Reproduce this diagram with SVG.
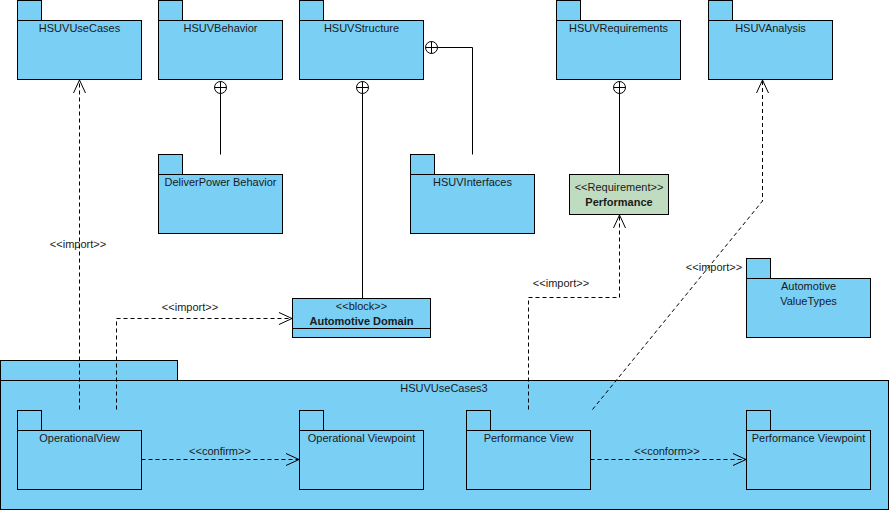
<svg xmlns="http://www.w3.org/2000/svg" width="889" height="511" viewBox="0 0 889 511">
<style>
.pkg{fill:#7ACFF5;stroke:#000;stroke-width:1}
.req{fill:#C0DCC0;stroke:#000;stroke-width:1}
.t{font-family:"Liberation Sans",Arial,sans-serif;font-size:11px;fill:#1a1a1a;text-anchor:middle}
.b{font-weight:bold}
.dash{fill:none;stroke:#000;stroke-width:1;stroke-dasharray:4 3}
.solid{fill:none;stroke:#000;stroke-width:1}
</style>
<defs>
<marker id="open" viewBox="-14 -7 16 14" refX="0" refY="0" markerWidth="16" markerHeight="14" markerUnits="userSpaceOnUse" orient="auto">
<path d="M-13,-6 L0,0 L-13,6" fill="none" stroke="#000" stroke-width="1" stroke-dasharray="none"/>
</marker>
<g id="nest">
<circle cx="0" cy="0" r="6" fill="#fff" stroke="#000" stroke-width="1"/>
<path d="M-6,0 H6 M0,-6 V6" stroke="#000" stroke-width="1"/>
</g>
</defs>
<rect width="889" height="511" fill="#fff"/>

<g id="HSUVUseCases3">
<rect class="pkg" x="0.5" y="360.5" width="177" height="20"/>
<rect class="pkg" x="0.5" y="380.5" width="888" height="129"/>
<text class="t" x="444" y="392">HSUVUseCases3</text>
</g>

<g id="HSUVUseCases">
<rect class="pkg" x="17.5" y="0.5" width="24" height="20"/>
<rect class="pkg" x="17.5" y="20.5" width="124" height="59"/>
<text class="t" x="79.5" y="32">HSUVUseCases</text>
</g>
<g id="HSUVBehavior">
<rect class="pkg" x="158.5" y="0.5" width="24" height="20"/>
<rect class="pkg" x="158.5" y="20.5" width="124" height="59"/>
<text class="t" x="220.5" y="32">HSUVBehavior</text>
</g>
<g id="HSUVStructure">
<rect class="pkg" x="299.5" y="0.5" width="24" height="20"/>
<rect class="pkg" x="299.5" y="20.5" width="124" height="59"/>
<text class="t" x="361.5" y="32">HSUVStructure</text>
</g>
<g id="HSUVRequirements">
<rect class="pkg" x="556.5" y="0.5" width="24" height="20"/>
<rect class="pkg" x="556.5" y="20.5" width="124" height="59"/>
<text class="t" x="618.5" y="32">HSUVRequirements</text>
</g>
<g id="HSUVAnalysis">
<rect class="pkg" x="708.5" y="0.5" width="24" height="20"/>
<rect class="pkg" x="708.5" y="20.5" width="124" height="59"/>
<text class="t" x="770.5" y="32">HSUVAnalysis</text>
</g>
<g id="DeliverPowerBehavior">
<rect class="pkg" x="158.5" y="154.5" width="24" height="20"/>
<rect class="pkg" x="158.5" y="174.5" width="124" height="59"/>
<text class="t" x="220.5" y="186">DeliverPower Behavior</text>
</g>
<g id="HSUVInterfaces">
<rect class="pkg" x="410.5" y="154.5" width="24" height="20"/>
<rect class="pkg" x="410.5" y="174.5" width="124" height="59"/>
<text class="t" x="472.5" y="186">HSUVInterfaces</text>
</g>
<g id="Performance">
<rect class="req" x="569.5" y="174.5" width="99" height="40"/>
<text class="t" x="619" y="191">&lt;&lt;Requirement&gt;&gt;</text>
<text class="t b" x="619" y="206">Performance</text>
</g>
<g id="AutomotiveValueTypes">
<rect class="pkg" x="746.5" y="258.5" width="24" height="20"/>
<rect class="pkg" x="746.5" y="278.5" width="124" height="59"/>
<text class="t" x="808.5" y="290">Automotive</text>
<text class="t" x="808.5" y="305">ValueTypes</text>
</g>
<g id="AutomotiveDomain">
<rect class="pkg" x="292.5" y="298.5" width="138" height="39"/>
<path class="solid" d="M292.5,328.5 H430.5"/>
<text class="t" x="361.5" y="310">&lt;&lt;block&gt;&gt;</text>
<text class="t b" x="361.5" y="325">Automotive Domain</text>
</g>
<g id="OperationalView">
<rect class="pkg" x="17.5" y="410.5" width="24" height="20"/>
<rect class="pkg" x="17.5" y="430.5" width="124" height="59"/>
<text class="t" x="79.5" y="442">OperationalView</text>
</g>
<g id="OperationalViewpoint">
<rect class="pkg" x="299.5" y="410.5" width="24" height="20"/>
<rect class="pkg" x="299.5" y="430.5" width="124" height="59"/>
<text class="t" x="361.5" y="442">Operational Viewpoint</text>
</g>
<g id="PerformanceView">
<rect class="pkg" x="466.5" y="410.5" width="24" height="20"/>
<rect class="pkg" x="466.5" y="430.5" width="124" height="59"/>
<text class="t" x="528.5" y="442">Performance View</text>
</g>
<g id="PerformanceViewpoint">
<rect class="pkg" x="746.5" y="410.5" width="24" height="20"/>
<rect class="pkg" x="746.5" y="430.5" width="124" height="59"/>
<text class="t" x="808.5" y="442">Performance Viewpoint</text>
</g>

<g id="connectors">
<path class="solid" d="M220.5,93.5 V154.5"/>
<path class="solid" d="M362.5,93.5 V298.5"/>
<path class="solid" d="M619.5,93.5 V174.5"/>
<path class="solid" d="M437.5,47.5 H472.5 V154.5"/>
<use href="#nest" x="220.5" y="87.5"/>
<use href="#nest" x="362.5" y="87.5"/>
<use href="#nest" x="619.5" y="87.5"/>
<use href="#nest" x="431.5" y="47.5"/>

<path class="dash" d="M79.5,409.5 V80" marker-end="url(#open)"/>
<text class="t" x="78" y="248">&lt;&lt;import&gt;&gt;</text>
<path class="dash" d="M116.5,409.5 V318.5 H292" marker-end="url(#open)"/>
<text class="t" x="190" y="311">&lt;&lt;import&gt;&gt;</text>
<path class="dash" d="M141.5,459.5 H299" marker-end="url(#open)"/>
<text class="t" x="220" y="455">&lt;&lt;confirm&gt;&gt;</text>
<path class="dash" d="M590.5,459.5 H746" marker-end="url(#open)"/>
<text class="t" x="667" y="455">&lt;&lt;conform&gt;&gt;</text>
<path class="dash" d="M528.5,409.5 V297.5 H619.5 V215" marker-end="url(#open)"/>
<text class="t" x="561" y="287">&lt;&lt;import&gt;&gt;</text>
<path class="dash" d="M592.5,409.5 L762.5,201 V80" marker-end="url(#open)"/>
<text class="t" x="714" y="271">&lt;&lt;import&gt;&gt;</text>
</g>
</svg>
